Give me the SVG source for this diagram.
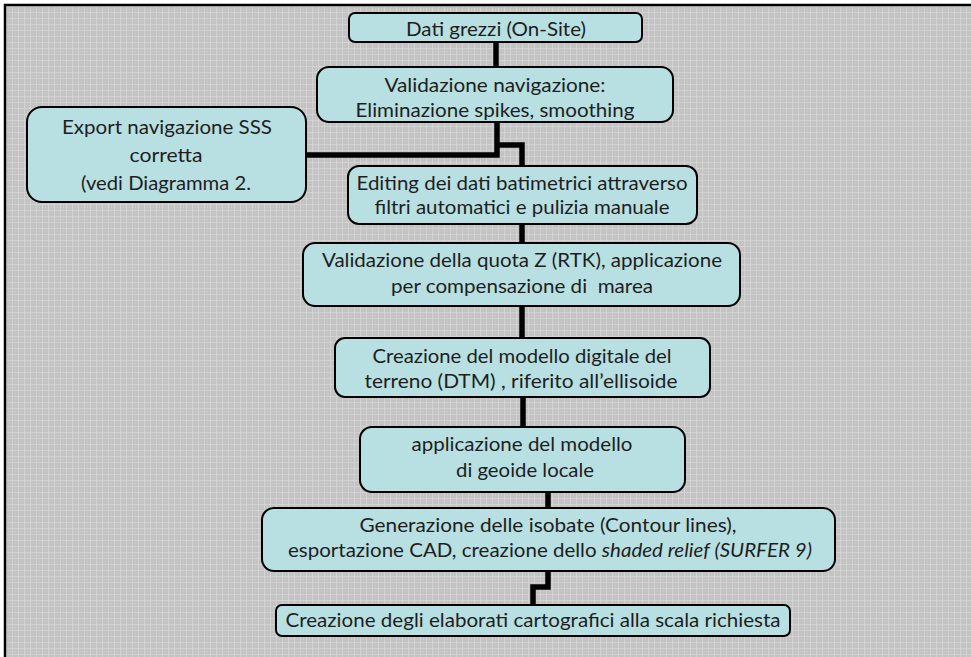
<svg xmlns="http://www.w3.org/2000/svg" width="971" height="657" viewBox="0 0 971 657">
<defs>
<pattern id="bg" x="0" y="0" width="6" height="6" patternUnits="userSpaceOnUse">
<rect width="6" height="6" fill="#c3c3c3"/>
<rect x="0" y="0" width="6" height="1" fill="#d3d3d3"/>
<rect x="0" y="0" width="1" height="6" fill="#d3d3d3"/>
<rect x="3" y="3" width="1" height="1" fill="#cfcfcf"/>
</pattern>
</defs>
<style>
.box{fill:#b8dfe1;stroke:#000;stroke-width:2}
.t{font-family:Lato,"Open Sans","Liberation Sans",sans-serif;font-size:20px;fill:#1e1e1e;text-anchor:middle}
.c{fill:none;stroke:#000;stroke-width:5.5;stroke-linejoin:miter}
</style>
<rect width="971" height="657" fill="#fff"/>
<rect x="5" y="5" width="1000" height="700" fill="url(#bg)" stroke="#000" stroke-width="2.5"/>
<g id="connectors">
<path class="c" d="M496,42 V67"/>
<path class="c" d="M497,122 V155 H306"/>
<path class="c" d="M497,145 H522 V166"/>
<path class="c" d="M522,224 V243"/>
<path class="c" d="M522,306 V338"/>
<path class="c" d="M523,397 V427"/>
<path class="c" d="M548,492 V508"/>
<path class="c" d="M548,571 V587 H533 V605"/>
</g>
<g id="n1">
<rect class="box" x="349" y="13" width="293" height="29" rx="6"/>
<text class="t" x="496" y="36" textLength="180" lengthAdjust="spacingAndGlyphs">Dati grezzi (On-Site)</text>
</g>
<g id="n2">
<rect class="box" x="317" y="67" width="356" height="55" rx="12"/>
<text class="t" x="495" y="92" textLength="221" lengthAdjust="spacingAndGlyphs">Validazione navigazione:</text>
<text class="t" x="495" y="117" textLength="279" lengthAdjust="spacingAndGlyphs">Eliminazione spikes, smoothing</text>
</g>
<g id="n3">
<rect class="box" x="27" y="107" width="279" height="95" rx="15"/>
<text class="t" x="167" y="134" textLength="210" lengthAdjust="spacingAndGlyphs">Export navigazione SSS</text>
<text class="t" x="166" y="162" textLength="73" lengthAdjust="spacingAndGlyphs">corretta</text>
<text class="t" x="166" y="190" textLength="170" lengthAdjust="spacingAndGlyphs">(vedi Diagramma 2.</text>
</g>
<g id="n4">
<rect class="box" x="348" y="166" width="349" height="58" rx="11"/>
<text class="t" x="522" y="190" textLength="331" lengthAdjust="spacingAndGlyphs">Editing dei dati batimetrici attraverso</text>
<text class="t" x="522" y="214" textLength="295" lengthAdjust="spacingAndGlyphs">filtri automatici e pulizia manuale</text>
</g>
<g id="n5">
<rect class="box" x="303" y="243" width="437" height="63" rx="12"/>
<text class="t" x="522" y="267" textLength="400" lengthAdjust="spacingAndGlyphs">Validazione della quota Z (RTK), applicazione</text>
<text class="t" x="522" y="293" textLength="262" lengthAdjust="spacingAndGlyphs" xml:space="preserve">per compensazione di  marea</text>
</g>
<g id="n6">
<rect class="box" x="335" y="338" width="375" height="59" rx="10"/>
<text class="t" x="522" y="363" textLength="299" lengthAdjust="spacingAndGlyphs">Creazione del modello digitale del</text>
<text class="t" x="521" y="388" textLength="313" lengthAdjust="spacingAndGlyphs">terreno (DTM) ,  riferito all’ellisoide</text>
</g>
<g id="n7">
<rect class="box" x="360" y="427" width="325" height="65" rx="12"/>
<text class="t" x="522" y="451" textLength="221" lengthAdjust="spacingAndGlyphs">applicazione del modello</text>
<text class="t" x="525" y="477" textLength="138" lengthAdjust="spacingAndGlyphs">di geoide locale</text>
</g>
<g id="n8">
<rect class="box" x="262" y="508" width="573" height="63" rx="12"/>
<text class="t" x="548" y="532" textLength="377" lengthAdjust="spacingAndGlyphs">Generazione delle isobate (Contour lines),</text>
<text class="t" x="550" y="557" textLength="524" lengthAdjust="spacingAndGlyphs">esportazione CAD, creazione dello <tspan font-style="italic">shaded relief (SURFER 9)</tspan></text>
</g>
<g id="n9">
<rect class="box" x="276" y="605" width="514" height="31" rx="6"/>
<text class="t" x="533" y="627" textLength="495" lengthAdjust="spacingAndGlyphs">Creazione degli elaborati cartografici alla scala richiesta</text>
</g>
</svg>
